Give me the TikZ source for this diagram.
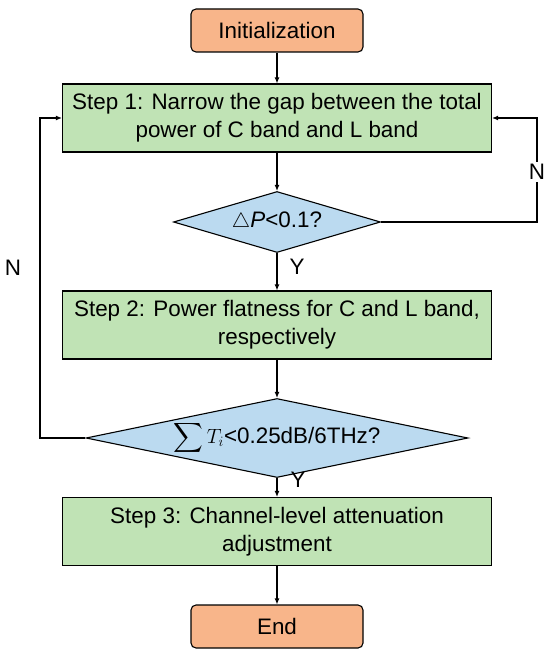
\documentclass[tikz,border=0pt]{standalone}
\usepackage{amsmath}
\usepackage{fontspec}
\setmainfont{Liberation Sans}
\usetikzlibrary{arrows.meta,shapes.geometric,positioning}

\definecolor{termfill}{HTML}{F8B58A}
\definecolor{stepfill}{HTML}{C0E3B5}
\definecolor{askfill}{HTML}{BBDAF0}

\tikzset{
  term/.style={draw, rounded corners=5bp, fill=termfill, minimum width=172bp, minimum height=43bp},
  stepbox/.style={draw, fill=stepfill, minimum width=429bp, minimum height=68bp, align=center},
  ask/.style={draw, diamond, fill=askfill, inner sep=0pt},
  flow/.style={-{Latex[length=6bp,width=5bp]}},
}

\begin{document}
\begin{tikzpicture}[x=1bp, y=-1bp, line width=1.1bp,
    font=\fontsize{22.5}{28}\selectfont]
    \useasboundingbox (0,0) rectangle (550,655);
    % ---- main column
    \node[term]    (a) at (277, 30.5) {Initialization};
    \node[stepbox] (b) at (277,118) {Step 1: Narrow the gap between the total\\power of C band and L band};
    \node[ask, shape aspect=3.4, minimum width=207bp, minimum height=61bp] (c) at (277,222) {$\triangle$\textit{P}<0.1?};
    \node[stepbox] (d) at (277,325) {Step 2: Power flatness for C and L band,\\respectively};
    \node[ask, shape aspect=4.8, minimum width=382bp, minimum height=79bp] (e) at (277,438) {$\displaystyle\sum T_i$<0.25dB/6THz?};
    \node[stepbox] (f) at (277,531.5) {Step 3: Channel-level attenuation\\adjustment};
    \node[term]    (g) at (277,626.5) {End};
    \foreach \u/\v in {a/b,b/c,c/d,d/e,e/f,f/g}
      { \draw[flow] (\u) -- (\v); }
    \node (y1) at (297,267) {Y};
    \node (y2) at (298,480) {Y};
    % ---- loops back to step 1
    \coordinate (r) at (537,222);
    \coordinate (l) at (40,438);
    \draw[flow] (c.east) -- (r) |- node[pos=0.24, fill=white, inner sep=2bp] (n1) {N} (b.east);
    \draw[flow] (e.west) -- (l) |- (b.west);
    \node (n2) at (13,268) {N};
\end{tikzpicture}
\end{document}
